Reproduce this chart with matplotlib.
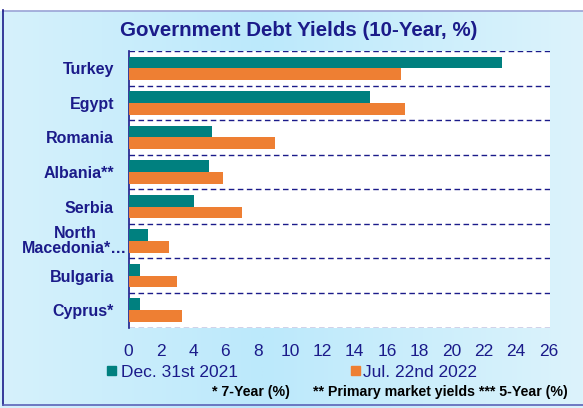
import matplotlib
matplotlib.use("Agg")
import matplotlib.pyplot as plt
import numpy as np
from matplotlib.patches import Rectangle
from matplotlib.colors import LinearSegmentedColormap
import matplotlib.transforms as mtransforms

plt.rcParams['font.family'] = ['Liberation Sans', 'DejaVu Sans']

categories = ["Turkey", "Egypt", "Romania", "Albania**", "Serbia",
              "North\nMacedonia*…", "Bulgaria", "Cyprus*"]
dec_2021 = [23.15, 14.95, 5.2, 5.0, 4.08, 1.21, 0.71, 0.69]
jul_2022 = [16.9, 17.1, 9.05, 5.86, 7.04, 2.51, 3.0, 3.3]
xticks = list(range(0, 27, 2))
series_names = ["Dec. 31st 2021", "Jul. 22nd 2022"]
title = "Government Debt Yields (10-Year, %)"
footnote_a = "* 7-Year (%)"
footnote_b = "** Primary market yields *** 5-Year (%)"

NAVY = "#1b1b8a"
TEAL = "#00807f"
ORANGE = "#ee7f33"

W, H = 583, 408
fig = plt.figure(figsize=(W/100, H/100), dpi=100)

# background gradient
bg = fig.add_axes([0, 0, 1, 1], zorder=-10)
xx = np.linspace(0, 1, 200)
yy = np.linspace(0, 1, 200)
X, Y = np.meshgrid(xx, yy)
G = np.abs(X - 0.45) * 1.6
cmap = LinearSegmentedColormap.from_list("bgc", ["#bce9fb", "#dcf3fc"])
bg.imshow(G, cmap=cmap, extent=[0, W, 0, H], aspect='auto', origin='upper')
bg.set_xlim(0, W); bg.set_ylim(H, 0)
bg.axis('off')
bg.add_patch(Rectangle((0, 0), W, 10, color='white', zorder=2))
bg.plot([3, W], [10.5, 10.5], color="#9aa3d6", lw=1.2, zorder=3)
bg.plot([3, 3], [10, 405], color=NAVY, lw=1.2, zorder=3)
bg.plot([3, W], [404.5, 404.5], color="#5b63b8", lw=1.2, zorder=3)

# plot area in pixel coords
L, R, T, B = 128.5, 550, 51, 327.5
ax = fig.add_axes([L/W, 1 - B/H, (R-L)/W, (B-T)/H])
ax.set_facecolor('white')
n = len(categories)
y = np.arange(n)
h = 0.34
ax.barh(y - h/2, dec_2021, height=h, color=TEAL, label=series_names[0], zorder=3)
ax.barh(y + h/2, jul_2022, height=h, color=ORANGE, label=series_names[1], zorder=3)
ax.set_ylim(n - 0.5, -0.5)
ax.set_xlim(0, 26.1)
for b in np.arange(-0.5, n, 1.0):
    ax.axhline(b, color=NAVY, lw=1.0, ls=(0, (4, 2.5)), zorder=2)
ax.set_yticks(y)
labels = [c if "\n" not in c else "" for c in categories]
ax.set_yticklabels(labels, fontsize=11.5, fontweight='bold', color=NAVY)
# multi-line label: centred lines, nearly touching the axis
trans = mtransforms.blended_transform_factory(ax.transAxes, ax.transData)
trans = mtransforms.offset_copy(trans, fig=fig, x=-1, y=0, units='dots')
for i, c in enumerate(categories):
    if "\n" in c:
        ax.text(0, i, c, transform=trans, ha='right', va='center',
                multialignment='center', fontsize=11.5, fontweight='bold',
                color=NAVY, linespacing=1.05, clip_on=False)
ax.set_xticks(xticks)
ax.set_xticklabels([str(t) for t in xticks], fontsize=12.5, color=NAVY)
ax.tick_params(axis='both', length=0)
ax.tick_params(axis='x', pad=12)
ax.tick_params(axis='y', pad=10.5)
for s in ['top', 'right', 'bottom']:
    ax.spines[s].set_visible(False)
ax.spines['left'].set_color(NAVY)
ax.spines['left'].set_linewidth(1.2)

fig.text(299/W, 1 - 31/H, title, ha='center', va='center', fontsize=14.8,
         fontweight='bold', color=NAVY)

# legend
for xs, xt, col, name in [(107, 121, TEAL, series_names[0]),
                          (350.5, 363, ORANGE, series_names[1])]:
    bg.add_patch(Rectangle((xs, 366), 9, 9, color=col, zorder=4))
    fig.text(xt/W, 1 - 372.5/H, name, ha='left', va='center',
             fontsize=12.5, color=NAVY)

fig.text(212/W, 1 - 392/H, footnote_a, ha='left', va='center', fontsize=10.2,
         fontweight='bold', color='black')
fig.text(568/W, 1 - 392/H, footnote_b, ha='right', va='center', fontsize=10.2,
         fontweight='bold', color='black')

fig.savefig("out.png", dpi=100)
